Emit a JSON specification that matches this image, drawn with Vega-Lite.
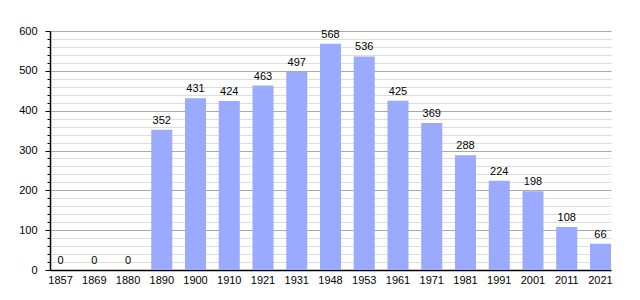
{
  "$schema": "https://vega.github.io/schema/vega-lite/v6.json",
  "autosize": "none",
  "width": 561,
  "height": 239,
  "padding": {"left": 50, "top": 31, "right": 29, "bottom": 30},
  "background": "white",
  "config": {
    "view": {"stroke": null},
    "font": "Liberation Sans"
  },
  "data": {
    "values": [
      {"year": "1857", "pop": 0},
      {"year": "1869", "pop": 0},
      {"year": "1880", "pop": 0},
      {"year": "1890", "pop": 352},
      {"year": "1900", "pop": 431},
      {"year": "1910", "pop": 424},
      {"year": "1921", "pop": 463},
      {"year": "1931", "pop": 497},
      {"year": "1948", "pop": 568},
      {"year": "1953", "pop": 536},
      {"year": "1961", "pop": 425},
      {"year": "1971", "pop": 369},
      {"year": "1981", "pop": 288},
      {"year": "1991", "pop": 224},
      {"year": "2001", "pop": 198},
      {"year": "2011", "pop": 108},
      {"year": "2021", "pop": 66}
    ]
  },
  "encoding": {
    "x": {
      "field": "year",
      "type": "nominal",
      "sort": null,
      "scale": {"paddingInner": 0.377, "paddingOuter": 0},
      "axis": {
        "title": null,
        "labelAngle": 0,
        "ticks": false,
        "labelPadding": 4,
        "labelFontSize": 11,
        "labelColor": "#000",
        "domainColor": "#000",
        "domainWidth": 1.5,
        "grid": false
      }
    },
    "y": {
      "field": "pop",
      "type": "quantitative",
      "scale": {"domain": [0, 600], "nice": false},
      "axis": {
        "title": null,
        "values": [0,20,40,60,80,100,120,140,160,180,200,220,240,260,280,300,320,340,360,380,400,420,440,460,480,500,520,540,560,580,600],
        "labelExpr": "datum.value % 100 === 0 ? datum.label : ''",
        "grid": true,
        "gridColor": {"condition": {"test": "datum.value % 100 === 0", "value": "#aaaaaa"}, "value": "#dddddd"},
        "tickColor": "#000",
        "tickSize": {"condition": {"test": "datum.value % 100 === 0", "value": 5}, "value": 3},
        "labelPadding": 8,
        "labelFontSize": 11,
        "labelColor": "#000",
        "domainColor": "#000",
        "domainWidth": 1.5
      }
    }
  },
  "layer": [
    {
      "mark": {"type": "bar", "color": "#99aaff"}
    },
    {
      "mark": {"type": "text", "baseline": "bottom", "dy": -4, "fontSize": 11, "color": "#000"},
      "encoding": {"text": {"field": "pop", "type": "quantitative"}}
    }
  ]
}
